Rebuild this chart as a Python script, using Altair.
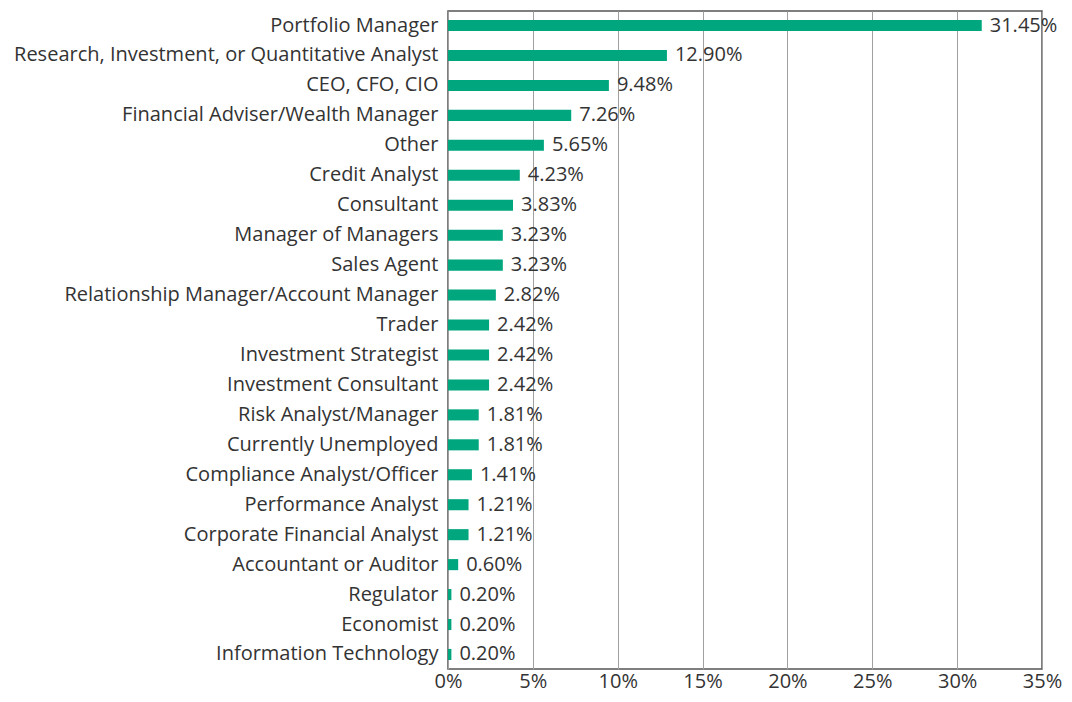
import altair as alt
import pandas as pd

roles = [
    "Portfolio Manager",
    "Research, Investment, or Quantitative Analyst",
    "CEO, CFO, CIO",
    "Financial Adviser/Wealth Manager",
    "Other",
    "Credit Analyst",
    "Consultant",
    "Manager of Managers",
    "Sales Agent",
    "Relationship Manager/Account Manager",
    "Trader",
    "Investment Strategist",
    "Investment Consultant",
    "Risk Analyst/Manager",
    "Currently Unemployed",
    "Compliance Analyst/Officer",
    "Performance Analyst",
    "Corporate Financial Analyst",
    "Accountant or Auditor",
    "Regulator",
    "Economist",
    "Information Technology",
]
shares = [31.45, 12.90, 9.48, 7.26, 5.65, 4.23, 3.83, 3.23, 3.23, 2.82, 2.42,
          2.42, 2.42, 1.81, 1.81, 1.41, 1.21, 1.21, 0.60, 0.20, 0.20, 0.20]

df = pd.DataFrame({"role": roles, "share": shares})
df["label"] = [f"{v:.2f}%" for v in shares]

FONT = "Open Sans"
FS = 20
TXT = "#333333"

y = alt.Y("role:N", sort=roles, title=None,
          scale=alt.Scale(paddingInner=0.63, paddingOuter=0.3),
          axis=alt.Axis(labelFontSize=FS, labelFont=FONT, labelColor=TXT,
                        ticks=False, labelPadding=10, domain=False, labelLimit=600))
x = alt.X("share:Q", title=None,
          scale=alt.Scale(domain=[0, 35], nice=False),
          axis=alt.Axis(values=[0, 5, 10, 15, 20, 25, 30, 35],
                        labelExpr="datum.value + '%'",
                        labelFontSize=FS, labelFont=FONT, labelColor=TXT,
                        labelFlush=False,
                        ticks=False, labelPadding=2, domain=False,
                        grid=True, gridColor="#a0a0a0", gridWidth=1))

bars = alt.Chart(df).mark_bar(color="#00A67E").encode(x=x, y=y)
labels = alt.Chart(df).mark_text(align="left", dx=8, fontSize=FS, font=FONT,
                                 color=TXT).encode(
    x="share:Q", y=alt.Y("role:N", sort=roles), text="label:N")

chart = (bars + labels).properties(
    width=594, height=658,
    autosize=alt.AutoSizeParams(type="none"),
    padding={"left": 440, "top": 3, "right": 22, "bottom": 25},
).configure_view(stroke="#555555", strokeWidth=1.5)

chart.save("out.html", embed_options={"renderer": "svg", "actions": False})
